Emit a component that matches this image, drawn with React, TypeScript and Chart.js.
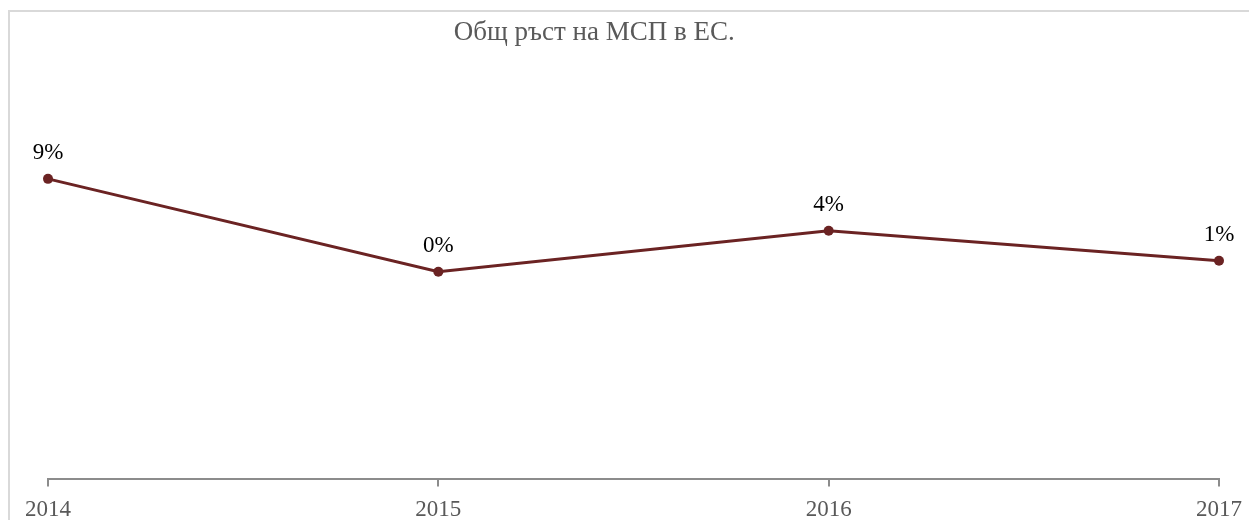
import React, { useEffect, useRef } from "react";
import { Chart, registerables } from "chart.js";

Chart.register(...registerables);

const title = "Общ ръст на МСП в ЕС.";
const categories = ["2014", "2015", "2016", "2017"];
const growth = [9.08, 0.1, 4.06, 1.16];
const yMin = -20;
const yMax = 20;

const FONT = "'Liberation Serif', 'Times New Roman', serif";
const LINE_COLOR = "#6B2323";

const titlePlugin = {
  id: "customTitle",
  afterDraw(chart: any) {
    const { ctx, width } = chart;
    ctx.save();
    ctx.font = `27px ${FONT}`;
    ctx.fillStyle = "#595959";
    ctx.textAlign = "center";
    ctx.textBaseline = "alphabetic";
    ctx.fillText(title, width * 0.4685, 28);
    ctx.restore();
  },
};

const labelPlugin = {
  id: "pointLabels",
  afterDatasetsDraw(chart: any) {
    const { ctx } = chart;
    const meta = chart.getDatasetMeta(0);
    const data = chart.data.datasets[0].data as number[];
    ctx.save();
    ctx.font = `23px ${FONT}`;
    ctx.fillStyle = "#000000";
    ctx.textAlign = "center";
    ctx.textBaseline = "alphabetic";
    meta.data.forEach((pt: any, i: number) => {
      ctx.fillText(`${Math.round(data[i])}%`, pt.x, pt.y - 20);
    });
    ctx.restore();
  },
};

export default function App() {
  const ref = useRef<HTMLCanvasElement>(null);
  useEffect(() => {
    document.body.style.overflow = "hidden";
    const chart = new Chart(ref.current!, {
      type: "line",
      data: {
        labels: categories,
        datasets: [
          {
            data: growth,
            borderColor: LINE_COLOR,
            backgroundColor: LINE_COLOR,
            borderWidth: 3,
            pointRadius: 5,
            pointBackgroundColor: LINE_COLOR,
            pointBorderColor: LINE_COLOR,
            pointBorderWidth: 0,
            tension: 0,
          },
        ],
      },
      options: {
        animation: false,
        responsive: true,
        maintainAspectRatio: false,
        layout: { padding: { top: 54, left: 38, right: 38, bottom: 0 } },
        plugins: {
          legend: { display: false },
          title: { display: false },
          tooltip: { enabled: false },
        },
        scales: {
          x: {
            offset: false,
            grid: {
              display: true,
              drawOnChartArea: false,
              drawTicks: true,
              tickLength: 7,
              color: "#8C8C8C",
              lineWidth: 2,
            },
            border: { display: true, color: "#8C8C8C", width: 2 },
            ticks: {
              color: "#595959",
              font: { family: FONT, size: 23 },
              padding: 10,
              maxRotation: 0,
            },
          },
          y: {
            display: false,
            min: yMin,
            max: yMax,
          },
        },
      },
      plugins: [titlePlugin, labelPlugin],
    });
    return () => chart.destroy();
  }, []);

  return (
    <div
      style={{
        position: "relative",
        top: 2,
        width: 1249,
        height: 520,
        boxSizing: "border-box",
        borderTop: "2px solid #D9D9D9",
        borderLeft: "2px solid #D9D9D9",
      }}
    >
      <div style={{ position: "relative", width: 1247, height: 522 }}>
        <canvas ref={ref} />
      </div>
    </div>
  );
}
